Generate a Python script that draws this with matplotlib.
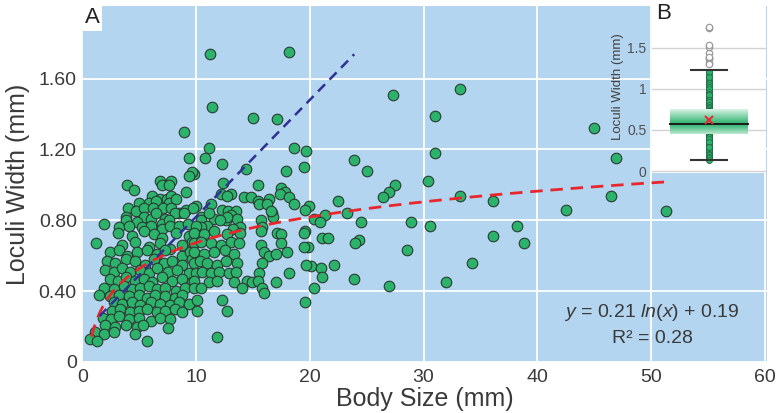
import matplotlib
matplotlib.use("Agg")
import matplotlib.pyplot as plt
import numpy as np

plt.rcParams['font.family'] = ['Liberation Sans', 'DejaVu Sans']
plt.rcParams['mathtext.fontset'] = 'custom'
plt.rcParams['mathtext.rm'] = 'Liberation Sans'
plt.rcParams['mathtext.it'] = 'Liberation Sans:italic'

# ---------------- data ----------------
bs_outer = [11.2, 18.2, 11.4, 15.0, 17.1, 27.3, 33.2, 31.0, 19.7, 19.5,
            31.0, 23.9, 25.0, 30.4, 27.5, 27.0, 26.4, 33.2, 36.1, 19.9,
            22.5, 21.3, 20.4, 20.9, 23.3, 24.5, 28.9, 30.6, 38.2, 36.1,
            38.8, 19.6, 21.1, 21.6, 24.3, 24.0, 19.8, 28.5, 34.3, 20.1,
            21.0, 22.1, 21.1, 23.9, 27.0, 32.0, 20.4, 19.6, 46.9, 46.5,
            42.5, 51.3, 45.0]
lw_outer = [1.74, 1.75, 1.44, 1.38, 1.37, 1.51, 1.54, 1.39, 1.19, 1.10,
            1.18, 1.14, 1.08, 1.02, 1.00, 0.96, 0.93, 0.94, 0.91, 0.88,
            0.91, 0.83, 0.81, 0.79, 0.84, 0.79, 0.79, 0.77, 0.77, 0.71,
            0.67, 0.74, 0.70, 0.70, 0.69, 0.67, 0.65, 0.63, 0.56, 0.54,
            0.53, 0.55, 0.48, 0.47, 0.43, 0.45, 0.42, 0.34, 1.15, 0.94,
            0.86, 0.85, 1.32]

bs_mid_hi = [11.1, 10.8, 12.3, 14.4, 18.6, 17.9, 9.8, 12.4, 15.4, 17.5,
             17.8, 17.4, 12.2, 13.1, 12.7, 14.2, 14.8, 15.4, 16.4, 18.2,
             18.6, 15.5, 16.2, 11.3, 10.0, 19.6, 12.3, 12.8, 13.5, 16.7,
             16.8, 10.4, 11.6, 13.1, 13.6, 12.6, 10.4, 15.7, 15.8, 11.0,
             13.9, 13.2, 10.4, 11.1, 12.7, 16.6, 12.1]
lw_mid_hi = [1.21, 1.15, 1.12, 1.09, 1.21, 1.08, 1.06, 1.01, 1.00, 0.98,
             0.96, 0.95, 0.95, 0.95, 0.94, 0.93, 0.93, 0.91, 0.92, 0.93,
             0.89, 0.89, 0.89, 0.89, 0.88, 0.86, 0.86, 0.85, 0.85, 0.84,
             0.82, 0.82, 0.81, 0.83, 0.81, 0.80, 0.80, 0.80, 0.76, 0.77,
             0.76, 0.75, 0.76, 0.84, 0.82, 0.85, 0.80]

bs_left_hi = [8.9, 9.4, 9.6, 9.4, 3.9, 4.5, 6.8, 7.0, 7.8, 7.6,
              9.1, 6.1, 6.8, 7.4, 7.8, 5.0, 5.9, 6.5, 7.6, 8.2,
              4.0, 4.7, 5.4, 6.2, 7.1, 7.8, 8.5, 9.1, 9.7, 3.8,
              5.4, 6.0, 6.5, 7.3, 8.1, 8.9, 3.8, 4.8, 7.0, 7.6,
              1.9, 3.2, 4.1, 5.2, 6.0, 7.0, 7.7, 8.5, 9.3, 10.0]
lw_left_hi = [1.30, 1.15, 1.07, 1.05, 1.00, 0.97, 1.02, 1.00, 1.02, 1.00,
              0.96, 0.94, 0.92, 0.92, 0.94, 0.90, 0.90, 0.91, 0.90, 0.92,
              0.87, 0.85, 0.87, 0.87, 0.87, 0.87, 0.84, 0.86, 0.87, 0.82,
              0.82, 0.81, 0.84, 0.81, 0.84, 0.84, 0.80, 0.79, 0.78, 0.80,
              0.78, 0.76, 0.77, 0.76, 0.77, 0.75, 0.77, 0.77, 0.78, 0.77]

bs_left_lo = [3.1, 4.4, 5.4, 6.3, 7.0, 8.2, 9.4,
              1.2, 3.5, 4.6, 5.9, 6.8, 7.7, 8.8, 9.6,
              2.4, 3.2, 3.9, 4.8, 5.7, 6.6, 7.3, 8.8, 9.5,
              2.2, 2.9, 3.8, 4.6, 5.5, 6.3, 7.2, 7.9, 8.8, 9.6,
              2.0, 2.8, 3.5, 4.2, 5.1, 5.9, 6.6, 7.5, 8.3, 9.4,
              2.4, 3.1, 3.8, 4.6, 5.4, 6.1, 7.0, 7.9, 8.8, 9.6,
              1.9, 2.8, 3.7, 4.4, 5.1, 5.9, 6.6, 7.3, 8.2, 9.0,
              1.5, 2.4, 3.2, 4.1, 5.0, 5.7, 6.4, 7.3, 8.1, 8.8,
              2.8, 3.5, 4.4, 5.1, 6.0, 6.8, 7.7, 8.5, 9.4,
              2.6, 3.3, 4.2, 5.0, 5.7, 6.6, 7.3, 8.1, 8.8,
              1.8, 2.5, 3.2, 4.1, 5.0, 6.0, 6.8, 7.7,
              2.0, 2.9, 3.8, 4.8, 5.3, 7.5,
              1.1, 1.9, 2.8, 4.6,
              0.7, 1.3, 5.7]
lw_left_lo = [0.73, 0.71, 0.74, 0.72, 0.70, 0.73, 0.71,
              0.67, 0.66, 0.68, 0.65, 0.67, 0.64, 0.66, 0.68,
              0.62, 0.63, 0.60, 0.62, 0.63, 0.61, 0.63, 0.60, 0.62,
              0.57, 0.56, 0.58, 0.57, 0.55, 0.58, 0.56, 0.57, 0.55, 0.58,
              0.52, 0.51, 0.53, 0.51, 0.52, 0.50, 0.53, 0.51, 0.52, 0.50,
              0.47, 0.46, 0.48, 0.46, 0.47, 0.45, 0.48, 0.46, 0.47, 0.45,
              0.42, 0.41, 0.43, 0.41, 0.42, 0.43, 0.41, 0.42, 0.40, 0.42,
              0.38, 0.37, 0.38, 0.37, 0.38, 0.36, 0.38, 0.37, 0.36, 0.38,
              0.34, 0.33, 0.34, 0.32, 0.34, 0.33, 0.32, 0.34, 0.33,
              0.29, 0.30, 0.28, 0.29, 0.30, 0.28, 0.29, 0.30, 0.28,
              0.25, 0.24, 0.26, 0.24, 0.25, 0.23, 0.25, 0.24,
              0.21, 0.20, 0.21, 0.20, 0.21, 0.19,
              0.17, 0.16, 0.17, 0.16,
              0.13, 0.12, 0.12]

bs_mid_lo = [9.8, 10.7, 11.6, 12.7, 13.9, 15.7, 17.1, 17.5, 19.5,
             9.8, 10.4, 11.3, 12.2, 13.1, 13.8, 15.7, 17.5, 19.5,
             9.8, 10.7, 11.6, 12.5, 13.3, 16.0, 16.4, 17.0, 18.0,
             9.8, 10.3, 11.0, 11.8, 12.6, 13.6, 15.8, 19.7,
             10.0, 10.5, 11.3, 12.0, 12.9, 13.5, 15.5, 18.2,
             9.8, 11.1, 11.8, 13.3, 14.5, 14.9, 15.4, 17.0,
             9.8, 10.4, 14.0, 15.8, 16.0,
             10.1, 12.3, 10.1, 12.7, 11.8]
lw_mid_lo = [0.73, 0.72, 0.74, 0.72, 0.73, 0.74, 0.73, 0.72, 0.73,
             0.67, 0.68, 0.67, 0.66, 0.68, 0.67, 0.66, 0.67, 0.65,
             0.62, 0.61, 0.62, 0.63, 0.61, 0.62, 0.60, 0.61, 0.62,
             0.56, 0.57, 0.56, 0.55, 0.57, 0.56, 0.56, 0.55,
             0.50, 0.51, 0.50, 0.51, 0.50, 0.51, 0.50, 0.50,
             0.46, 0.45, 0.46, 0.45, 0.46, 0.45, 0.46, 0.45,
             0.42, 0.42, 0.42, 0.42, 0.39,
             0.35, 0.35, 0.29, 0.29, 0.14]

body_size = bs_outer + bs_mid_hi + bs_left_hi + bs_left_lo + bs_mid_lo
loculi_width = lw_outer + lw_mid_hi + lw_left_hi + lw_left_lo + lw_mid_lo

# fitted curves
log_fit_a, log_fit_b = 0.21, 0.19
log_fit_range = [0.8, 51.5]
lin_fit_slope, lin_fit_intercept = 0.066, 0.16
lin_fit_range = [1.5, 23.9]

x_ticks = [0, 10, 20, 30, 40, 50, 60]
y_ticks = [0, 0.40, 0.80, 1.20, 1.60]
y_tick_labels = ['0', '0.40', '0.80', '1.20', '1.60']

# inset box plot summary
whisker_lo, box_q1, box_median, box_mean, box_q3, whisker_hi = 0.13, 0.45, 0.57, 0.62, 0.75, 1.23
inset_ticks = [0, 0.5, 1, 1.5]
inset_tick_labels = ['0', '0.5', '1', '1.5']

# ---------------- styling ----------------
BG = '#B3D5F0'
GREEN = '#2BB36C'
EDGE = '#2c3a32'
TXT = '#3a3a3a'

W, H = 778, 413
fig = plt.figure(figsize=(W / 100, H / 100), dpi=100)

ax = fig.add_axes([82.4 / W, (H - 362) / H, (767 - 82.4) / W, (362 - 6) / H])
ax.set_facecolor(BG)
for s in ax.spines.values():
    s.set_visible(False)
ax.set_xlim(0, 60.2)
ax.set_ylim(0, 2.01)
ax.set_xticks(x_ticks)
ax.set_yticks(y_ticks)
ax.set_yticklabels(y_tick_labels)
ax.grid(True, color='white', lw=1.3)
ax.set_axisbelow(True)
ax.tick_params(length=0, labelsize=14, colors=TXT)
ax.tick_params(axis='y', pad=4)
ax.tick_params(axis='x', pad=5)
ax.set_xlabel('Body Size (mm)', fontsize=18, color=TXT, labelpad=1)
ax.set_ylabel('Loculi Width (mm)', fontsize=18, color=TXT, labelpad=6)

ax.scatter(body_size, loculi_width, s=58, c=GREEN, edgecolors=EDGE,
           linewidths=0.8, zorder=2)

fx = np.linspace(log_fit_range[0], log_fit_range[1], 200)
ax.plot(fx, log_fit_a * np.log(fx) + log_fit_b, color='#E8262B', lw=2.0,
        dashes=(4.5, 2.8), zorder=3)
lx = np.array(lin_fit_range)
ax.plot(lx, lin_fit_slope * lx + lin_fit_intercept, color='#2E3192', lw=1.8,
        dashes=(4.0, 2.6), zorder=3)

ax.text(0.003, 0.997, 'A', transform=ax.transAxes, ha='left', va='top',
        fontsize=16, color='#222',
        bbox=dict(boxstyle='square,pad=0.12', fc='white', ec='none'), zorder=5)

ax.text(0.832, 0.138, r'$\mathit{y}$ = 0.21 $\mathit{ln(x)}$ + 0.19',
        transform=ax.transAxes, ha='center', va='center', fontsize=14, color=TXT)
ax.text(0.832, 0.067, 'R² = 0.28', transform=ax.transAxes, ha='center',
        va='center', fontsize=14, color=TXT)

# ---------------- inset B ----------------
axin = fig.add_axes([652 / W, (H - 173) / H, 114 / W, 173 / H])
axin.set_facecolor('white')
for s in axin.spines.values():
    s.set_visible(False)
axin.set_xlim(0, 2)
axin.set_ylim(-0.024, 2.083)
axin.set_xticks([])
axin.set_yticks(inset_ticks)
axin.set_yticklabels(inset_tick_labels)
axin.tick_params(length=0, labelsize=10, colors='#505050', pad=4)
axin.grid(True, axis='y', color='#d2d2d2', lw=1)
axin.set_axisbelow(True)
axin.set_ylabel('Loculi Width (mm)', fontsize=9.5, color='#404040', labelpad=2)
axin.text(0.04, 0.985, 'B', transform=axin.transAxes, ha='left', va='top',
          fontsize=16, color='#222')

yw = np.array(loculi_width)
inside = yw[(yw >= whisker_lo) & (yw <= whisker_hi)]
outl = yw[yw > whisker_hi]
axin.plot([1, 1], [whisker_lo, whisker_hi], color='#333', lw=1, zorder=2)
axin.plot(np.ones_like(inside), inside, 'o', ms=4.2, mfc=GREEN, mec='#1f6b42',
          mew=0.5, zorder=3)
axin.plot(np.ones_like(outl), outl, 'o', ms=4.6, mfc='white', mec='#9a9a9a',
          mew=0.9, zorder=3)
for yy in (whisker_lo, whisker_hi):
    axin.plot([0.68, 1.32], [yy, yy], color='#333', lw=1.5, zorder=4)

# gradient box
n = 120
yy = np.linspace(box_q1, box_q3, n)
inten = np.where(yy >= box_median,
                 1 - (yy - box_median) / (box_q3 - box_median),
                 1 - (box_median - yy) / (box_median - box_q1) * 0.85)
inten = 0.15 + 0.85 * np.clip(inten, 0, 1) ** 0.9
g = np.array(matplotlib.colors.to_rgb(GREEN))
img = (1 - inten[:, None]) * np.ones(3) + inten[:, None] * g
img = img[:, None, :]
axin.imshow(img, extent=(0.32, 1.68, box_q1, box_q3), origin='lower',
            aspect='auto', zorder=5, interpolation='bilinear')
axin.plot([0.32, 1.68], [box_median, box_median], color='#1a1a1a', lw=1.4, zorder=6)
axin.plot([1], [box_mean], 'x', color='#E8262B', ms=6, mew=1.4, zorder=7)
axin.set_xlim(0, 2)
axin.set_ylim(-0.024, 2.083)

fig.savefig('out.png', dpi=100)
